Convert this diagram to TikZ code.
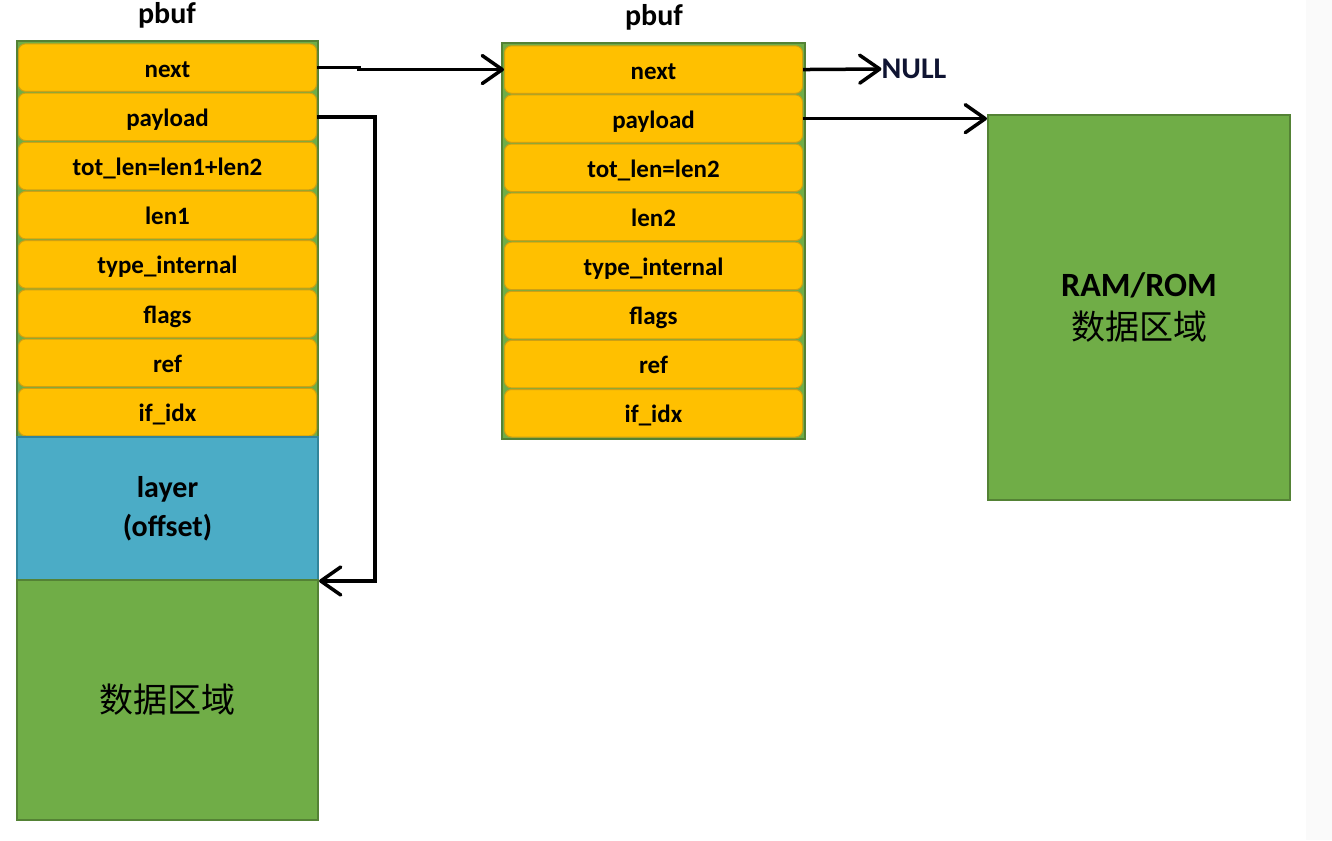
\documentclass[tikz,border=0pt]{standalone}
\usepackage{fontspec}
\setmainfont{Carlito}
\newfontfamily\cjk{Noto Sans CJK SC}
\usetikzlibrary{arrows.meta}
\definecolor{fieldfill}{RGB}{255,192,0}
\definecolor{fieldline}{RGB}{205,160,20}
\definecolor{layerfill}{RGB}{75,172,198}
\definecolor{layerline}{RGB}{49,133,155}
\definecolor{datafill}{RGB}{112,173,71}
\definecolor{dataline}{RGB}{84,130,53}
\definecolor{edge}{RGB}{250,250,250}
\definecolor{nullink}{RGB}{15,20,50}

\begin{document}
\begin{tikzpicture}[x=1pt, y=-1pt,
	frame/.style={draw=dataline, fill=datafill, line width=1.5pt},
	field/.style={draw=fieldline, fill=fieldfill, line width=1pt, rounded corners=7pt,
		minimum width=298pt, minimum height=47.5pt, inner sep=0pt,
		text height=19pt, text depth=0pt,
		font=\fontsize{25}{28}\selectfont\bfseries},
	title/.style={font=\fontsize{30}{34}\selectfont\bfseries, inner sep=0pt},
	block/.style={draw=#1line, fill=#1fill, line width=2pt, inner sep=0pt, align=center},
	ptr/.style={line width=3.5pt, line join=miter,
		-{Straight Barb[length=20pt,width=28pt,line width=3.5pt,round]}}]
\useasboundingbox (0,0) rectangle (1332,840);
\fill[edge] (1306,0) rectangle (1332,840);

% first pbuf
\node[title] (a-title) at (167,15) {pbuf};
\draw[frame] (17,41) rectangle (318,437);
\foreach \f [count=\i from 0] in {next,payload,tot\_len=len1+len2,len1,type\_internal,flags,ref,if\_idx}
	\node[field] (a-\i) at (167.5,{43+49.2*(\i+0.5)}) {\f};
\node[block=layer, minimum width=301pt, minimum height=143pt,
	font=\fontsize{30}{39}\selectfont\bfseries] (a-layer) at (167.5,508.5) {layer\\(offset)};
\node[block=data, minimum width=301pt, minimum height=240pt,
	font=\fontsize{34}{40}\selectfont\cjk] (a-data) at (167.5,700) {数据区域};

% second pbuf
\node[title] (b-title) at (654,17) {pbuf};
\draw[frame] (502,43) rectangle (805,439);
\foreach \f [count=\i from 0] in {next,payload,tot\_len=len2,len2,type\_internal,flags,ref,if\_idx}
	\node[field] (b-\i) at (653.5,{45+49.1*(\i+0.5)}) {\f};

% payload buffer
\node[block=data, minimum width=302pt, minimum height=385pt,
	font=\fontsize{34}{43}\selectfont\bfseries] (ram) at (1139,307.5) {RAM/ROM\\{\cjk\mdseries 数据区域}};
\node[title, text=nullink] (null) at (914,69) {NULL};

% pointers
\draw[ptr] (a-0.east) -- ++(42,0) |- (b-0.west);
\draw[ptr] (a-1.east) -- ++(58,0) |- (a-layer.south east);
\draw[ptr] (b-0.east) -- (null.west);
\draw[ptr] (b-1.east) -- (b-1.east -| ram.west);
\end{tikzpicture}
\end{document}
